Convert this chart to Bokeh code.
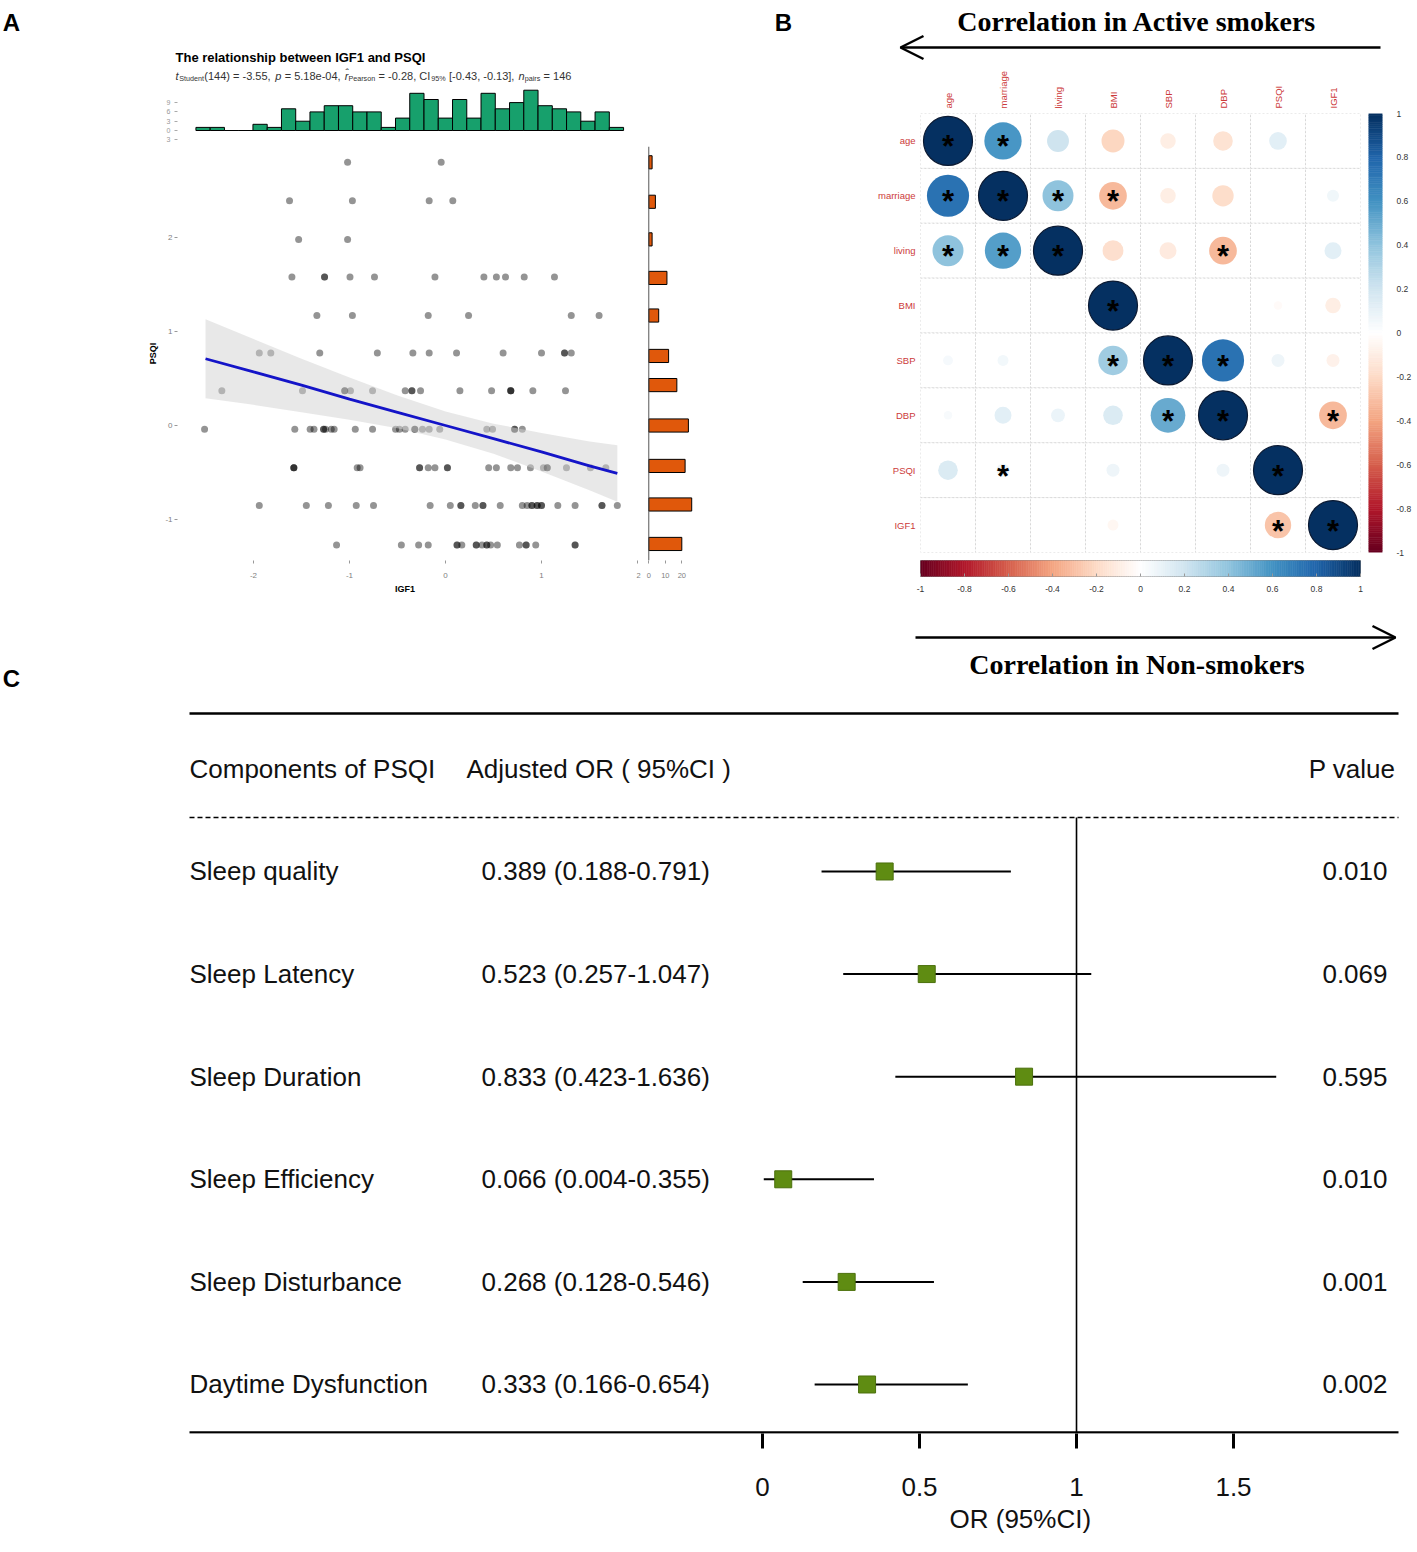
import numpy as np
from bokeh.plotting import figure
from bokeh.models import (Range1d, FactorRange, FixedTicker, Span, Arrow, OpenHead,
                          ColumnDataSource, Title)
from bokeh.layouts import row, column
from bokeh.core.properties import value
from bokeh.transform import linear_cmap
from bokeh.embed import file_html
from bokeh.resources import INLINE

SANS = "Liberation Sans"
SERIF = "Liberation Serif"

# ---------------- Panel A data (standardised IGF1 vs PSQI) ----------------
psqi_levels = [2.80, 2.39, 1.98, 1.58, 1.17, 0.77, 0.37, -0.04, -0.45, -0.85, -1.27]
igf1_by_level = [
    [-1.02, -0.045],
    [-1.625, -0.97, -0.17, 0.076],
    [-1.53, -1.02],
    [-1.60, -1.26, -1.26, -0.995, -0.74, -0.11, 0.40, 0.53, 0.625, 0.82, 1.135],
    [-1.34, -0.97, -0.18, 0.24, 1.31, 1.60],
    [-1.94, -1.82, -1.31, -0.71, -0.34, -0.17, 0.115, 0.60, 1.00, 1.24, 1.24, 1.31],
    [-2.33, -1.49, -1.05, -1.05, -0.99, -0.76, -0.42, -0.35, -0.35, -0.26, 0.15, 0.48,
     0.68, 0.68, 0.68, 0.91, 1.25],
    [-2.51, -1.57, -1.41, -1.37, -1.27, -1.27, -1.25, -1.19, -1.16, -0.94, -0.76, -0.52,
     -0.48, -0.42, -0.32, -0.32, -0.24, -0.17, -0.06, 0.43, 0.49, 0.72, 0.72, 0.80],
    [-1.58, -1.58, -1.58, -0.92, -0.89, -0.27, -0.27, -0.18, -0.11, 0.02, 0.02, 0.45,
     0.53, 0.68, 0.75, 0.885, 1.02, 1.06, 1.06, 1.26, 1.51, 1.67],
    [-1.94, -1.45, -1.22, -0.93, -0.75, -0.16, 0.05, 0.16, 0.16, 0.31, 0.39, 0.39, 0.57,
     0.80, 0.85, 0.90, 0.90, 0.955, 0.955, 1.0, 1.0, 1.17, 1.35, 1.63, 1.63, 1.79],
    [-1.135, -0.46, -0.28, -0.18, 0.12, 0.12, 0.17, 0.32, 0.32, 0.38, 0.43, 0.43, 0.47,
     0.54, 0.77, 0.84, 0.84, 0.94, 1.35, 1.35],
]
psqi_hist_centers = [2.80, 2.38, 1.98, 1.57, 1.17, 0.74, 0.43, 0.0, -0.43, -0.84, -1.26]
psqi_hist_counts = [2, 4, 2, 11, 6, 12, 17, 24, 22, 26, 20]
igf1_hist_start = -2.60
igf1_hist_binwidth = 0.1485
igf1_hist_counts = [1, 1, 0, 0, 2, 1, 7, 3, 6, 8, 8, 6, 6, 1, 4, 12, 10, 4, 10, 4,
                    12, 7, 9, 13, 8, 7, 6, 3, 6, 1]
fit_x = [-2.5, -2.0, -1.5, -1.0, -0.5, 0.0, 0.5, 1.0, 1.5, 1.79]
fit_y = [0.71, 0.57, 0.43, 0.28, 0.14, 0.0, -0.14, -0.28, -0.43, -0.51]
ci_upper = [1.13, 0.92, 0.71, 0.51, 0.32, 0.15, 0.02, -0.08, -0.17, -0.21]
ci_lower = [0.29, 0.22, 0.14, 0.06, -0.03, -0.15, -0.30, -0.49, -0.69, -0.81]

# ---------------- Panel B data (correlation matrix) ----------------
corr_vars = ["age", "marriage", "living", "BMI", "SBP", "DBP", "PSQI", "IGF1"]
corr_matrix = [
    [1.00, 0.58, 0.20, -0.22, -0.10, -0.16, 0.13, 0.00],
    [0.74, 1.00, 0.40, -0.32, -0.10, -0.19, 0.00, 0.06],
    [0.40, 0.55, 1.00, -0.18, -0.12, -0.32, 0.00, 0.12],
    [0.00, 0.00, 0.00, 1.00, 0.00, 0.00, -0.03, -0.10],
    [0.04, 0.05, 0.00, 0.36, 1.00, 0.74, 0.07, -0.07],
    [0.03, 0.12, 0.08, 0.16, 0.50, 1.00, 0.00, -0.32],
    [0.16, 0.07, 0.00, 0.07, 0.00, 0.07, 1.00, 0.00],
    [0.00, 0.00, 0.00, -0.05, 0.00, 0.00, -0.29, 1.00],
]
corr_sig = [
    [1, 1, 0, 0, 0, 0, 0, 0],
    [1, 1, 1, 1, 0, 0, 0, 0],
    [1, 1, 1, 0, 0, 1, 0, 0],
    [0, 0, 0, 1, 0, 0, 0, 0],
    [0, 0, 0, 1, 1, 1, 0, 0],
    [0, 0, 0, 0, 1, 1, 0, 1],
    [0, 1, 0, 0, 0, 0, 1, 0],
    [0, 0, 0, 0, 0, 0, 1, 1],
]
cbar_ticks = [-1, -0.8, -0.6, -0.4, -0.2, 0, 0.2, 0.4, 0.6, 0.8, 1]
cbar_labels = ["-1", "-0.8", "-0.6", "-0.4", "-0.2", "0", "0.2", "0.4", "0.6", "0.8", "1"]

# ---------------- Panel C data (forest plot) ----------------
components = ["Sleep quality", "Sleep Latency", "Sleep Duration", "Sleep Efficiency",
              "Sleep Disturbance", "Daytime Dysfunction"]
or_est = [0.389, 0.523, 0.833, 0.066, 0.268, 0.333]
or_low = [0.188, 0.257, 0.423, 0.004, 0.128, 0.166]
or_high = [0.791, 1.047, 1.636, 0.355, 0.546, 0.654]
p_values = ["0.010", "0.069", "0.595", "0.010", "0.001", "0.002"]
or_ticks = [0, 0.5, 1, 1.5]

# ---------------- helpers ----------------
ANCHORS = ["#67001F", "#B2182B", "#D6604D", "#F4A582", "#FDDBC7", "#FFFFFF",
           "#D1E5F0", "#92C5DE", "#4393C3", "#2166AC", "#053061"]


def ramp(n):
    def h2r(h):
        return tuple(int(h[i:i + 2], 16) for i in (1, 3, 5))
    out = []
    for k in range(n):
        t = k / (n - 1) * (len(ANCHORS) - 1)
        i = min(int(t), len(ANCHORS) - 2)
        f = t - i
        a, b = h2r(ANCHORS[i]), h2r(ANCHORS[i + 1])
        out.append("#%02x%02x%02x" % tuple(int(round(a[c] + (b[c] - a[c]) * f)) for c in range(3)))
    return out


PALETTE = ramp(200)


def base(width, height, **kw):
    p = figure(width=width, height=height, output_backend="svg", toolbar_location=None, **kw)
    p.outline_line_color = None
    p.background_fill_color = "white"
    p.border_fill_color = "white"
    p.grid.visible = False
    return p


def blank(width, height, xr, yr):
    p = base(width, height, x_range=Range1d(*xr), y_range=Range1d(*yr),
             x_axis_location=None, y_axis_location=None, min_border_left=0,
             min_border_right=0, min_border_top=0, min_border_bottom=0)
    return p


def txt(p, x, y, s, size, style="normal", align="left", color="black", font=SANS,
        angle=0, **kw):
    p.text(x=[x], y=[y], text=[s], text_font=value(font), text_font_size=size,
           text_font_style=style, text_align=align, text_baseline="middle",
           text_color=color, angle=angle, **kw)


def style_axis(ax, size="8px", color="#808080"):
    ax.axis_line_color = None
    ax.major_label_text_font = SANS
    ax.major_label_text_font_size = size
    ax.major_label_text_color = color
    ax.minor_tick_line_color = None


# ================= PANEL A =================
pA = blank(760, 88, (0, 760), (88, 0))
txt(pA, 11, 22, "A", "24px", "bold", "center")
txt(pA, 175, 57, "The relationship between IGF1 and PSQI", "13px", "bold")
sub_frags = [
    ("t", 175.0, "italic", "11px", 75),
    ("Student", 178.7, "normal", "7.2px", 78),
    ("(144) = -3.55,", 203.8, "normal", "11px", 75),
    ("p", 274.8, "italic", "11px", 75),
    ("= 5.18e-04,", 284.2, "normal", "11px", 75),
    ("r\u0302", 344.2, "italic", "11px", 75),
    ("Pearson", 347.9, "normal", "7.2px", 78),
    ("= -0.28, CI", 378.1, "normal", "11px", 75),
    ("95%", 430.8, "normal", "7.2px", 78),
    ("[-0.43, -0.13],", 448.5, "normal", "11px", 75),
    ("n", 518.0, "italic", "11px", 75),
    ("pairs", 524.2, "normal", "7.2px", 78),
    ("= 146", 543.1, "normal", "11px", 75),
]
for s, x, st, sz, y in sub_frags:
    txt(pA, x, y, s, sz, st, color="#333333")

# scatter
scat_x = [v for lv in igf1_by_level for v in lv]
scat_y = [psqi_levels[i] for i, lv in enumerate(igf1_by_level) for _ in lv]

pS = base(636, 474, x_range=Range1d(-2.792, 1.948), y_range=Range1d(-1.436, 2.968),
          min_border_left=177, min_border_right=4, min_border_top=0, min_border_bottom=60)
pS.scatter(scat_x, scat_y, size=7, fill_color="black", fill_alpha=0.42, line_color=None)
pS.varea(x=fit_x, y1=ci_lower, y2=ci_upper, fill_color="#d2d2d2", fill_alpha=0.5)
pS.line(fit_x, fit_y, line_color="#1414c8", line_width=2.8)
for ax in (pS.xaxis, pS.yaxis):
    style_axis(ax)
    ax.major_tick_line_color = "#999999"
    ax.major_tick_out = 3
    ax.major_tick_in = 0
    ax.axis_label_text_font = SANS
    ax.axis_label_text_font_size = "9px"
    ax.axis_label_text_font_style = "bold"
    ax.axis_label_text_color = "black"
pS.xaxis.ticker = FixedTicker(ticks=[-2, -1, 0, 1])
pS.xaxis.major_label_overrides = {-2: "-2", -1: "-1", 0: "0", 1: "1"}
pS.xaxis.major_label_standoff = 9
pS.xaxis.axis_label = "IGF1"
pS.xaxis.axis_label_standoff = 3
pS.yaxis.ticker = FixedTicker(ticks=[-1, 0, 1, 2])
pS.yaxis.major_label_overrides = {-1: "-1", 0: "0", 1: "1", 2: "2"}
pS.yaxis.major_label_standoff = 2
pS.yaxis.axis_label = "PSQI"
pS.yaxis.axis_label_standoff = 4

# right marginal histogram
pR = base(124, 474, x_range=Range1d(-7.45, 31.33), y_range=pS.y_range, y_axis_location=None,
          min_border_left=0, min_border_right=60, min_border_top=0, min_border_bottom=60)
pR.add_layout(Span(location=0, dimension="height", line_color="#555555", line_width=1))
pR.hbar(y=psqi_hist_centers, left=0, right=psqi_hist_counts, height=0.14,
        fill_color="#E0580B", line_color="black", line_width=1)
style_axis(pR.xaxis, "7.5px")
pR.xaxis.ticker = FixedTicker(ticks=[-7, 0, 10, 20])
pR.xaxis.major_label_overrides = {-7: "2", 0: "0", 10: "10", 20: "20"}
pR.xaxis.major_tick_line_color = "#999999"
pR.xaxis.major_tick_out = 3
pR.xaxis.major_tick_in = 0
pR.xaxis.major_label_standoff = 9

# top marginal histogram
hist_centers = [igf1_hist_start + (i + 0.5) * igf1_hist_binwidth for i in range(len(igf1_hist_counts))]
pT = base(760, 58, x_range=pS.x_range, y_range=Range1d(-5.16, 13.55), x_axis_location=None,
          min_border_left=177, min_border_right=128, min_border_top=0, min_border_bottom=0)
pT.vbar(x=hist_centers, top=igf1_hist_counts, bottom=0, width=igf1_hist_binwidth,
        fill_color="#17a06c", line_color="black", line_width=1)
style_axis(pT.yaxis, "7px", "#999999")
pT.yaxis.ticker = FixedTicker(ticks=[9, 6, 3, 0, -3])
pT.yaxis.major_label_overrides = {9: "9", 6: "6", 3: "3", 0: "0", -3: "3"}
pT.yaxis.major_tick_line_color = "#aaaaaa"
pT.yaxis.major_tick_out = 3
pT.yaxis.major_tick_in = 0
pT.yaxis.major_label_standoff = 4

colA = column(row(pA), row(pT), row(pS, pR))

# ================= PANEL B =================
pBh = blank(654, 65, (760, 1414), (65, 0))
txt(pBh, 783, 22, "B", "24px", "bold", "center")
txt(pBh, 1140, 21, "Correlation in  Active smokers", "28px", "bold", "center", font=SERIF)
pBh.add_layout(Arrow(x_start=1380, y_start=47, x_end=900, y_end=47, line_width=2.5,
                     end=OpenHead(size=23, line_width=2.5, line_color="black")))

cx, cy, cr, crad, cline = [], [], [], [], []
sx, sy = [], []
for i, rn in enumerate(corr_vars):
    for j, cn in enumerate(corr_vars):
        r = corr_matrix[i][j]
        if r != 0:
            cx.append(cn)
            cy.append(rn)
            cr.append(r)
            crad.append(24.5 * abs(r) ** 0.5)
            cline.append("#0b1a33" if abs(r) >= 0.99 else None)
        if corr_sig[i][j]:
            sx.append(cn)
            sy.append(rn)
circ_src = ColumnDataSource(dict(x=cx, y=cy, r=cr, rad=crad, lc=cline))
grid_x = [c for _ in corr_vars for c in corr_vars]
grid_y = [r for r in corr_vars for _ in corr_vars]

pBm = base(604, 491, x_range=FactorRange(*corr_vars), y_range=FactorRange(*reversed(corr_vars)),
           x_axis_location="above", min_border_left=160, min_border_right=4,
           min_border_top=48, min_border_bottom=4)
pBm.rect(x=grid_x, y=grid_y, width=1, height=1, fill_color="white", line_color="#d8d8d8",
         line_dash="2 2", line_width=1)
pBm.circle(x="x", y="y", radius="rad", radius_units="screen", source=circ_src,
           fill_color=linear_cmap("r", PALETTE, -1, 1), line_color="lc", line_width=1.2)
pBm.text(x=sx, y=sy, text=["*"] * len(sx), text_font=value(SANS), text_font_size="31px",
         text_font_style="bold", text_align="center", text_baseline="middle",
         text_color="black", y_offset=6)
for ax in (pBm.xaxis, pBm.yaxis):
    style_axis(ax, "9.5px", "#cc3a3a")
    ax.major_tick_line_color = None
    ax.major_tick_out = 0
    ax.major_tick_in = 0
    ax.major_label_standoff = 5
pBm.xaxis.major_label_orientation = "vertical"

edges = [cbar_ticks[0] + k * (cbar_ticks[-1] - cbar_ticks[0]) / len(PALETTE) for k in range(len(PALETTE) + 1)]
cbar_over = dict(zip(cbar_ticks, cbar_labels))

pBr = base(50, 491, x_range=Range1d(0, 1), y_range=Range1d(-1, 1), x_axis_location=None,
           y_axis_location="right", min_border_left=4, min_border_right=32,
           min_border_top=48, min_border_bottom=4)
pBr.quad(left=0, right=1, bottom=edges[:-1], top=edges[1:], fill_color=PALETTE,
         line_color=PALETTE, line_width=0.6)
style_axis(pBr.yaxis, "8.5px", "#333333")
pBr.yaxis.ticker = FixedTicker(ticks=cbar_ticks)
pBr.yaxis.major_label_overrides = cbar_over
pBr.yaxis.major_tick_line_color = None
pBr.yaxis.major_tick_out = 0
pBr.yaxis.major_label_standoff = 14

pBb = base(654, 64, x_range=Range1d(-1, 1), y_range=Range1d(0, 1), y_axis_location=None,
           min_border_left=160, min_border_right=54, min_border_top=4, min_border_bottom=44)
pBb.quad(left=edges[:-1], right=edges[1:], bottom=0, top=1, fill_color=PALETTE,
         line_color=PALETTE, line_width=0.6)
pBb.outline_line_color = "#888888"
style_axis(pBb.xaxis, "8.5px", "#333333")
pBb.xaxis.ticker = FixedTicker(ticks=cbar_ticks)
pBb.xaxis.major_label_overrides = cbar_over
pBb.xaxis.major_tick_line_color = "#9a9a9a"
pBb.xaxis.major_tick_in = 3
pBb.xaxis.major_tick_out = 0
pBb.xaxis.major_label_standoff = 9

colB = column(row(pBh), row(pBm, pBr), row(pBb))

# ================= PANEL C =================
row_pos = list(range(len(components), 0, -1))
pC = base(1408, 924, x_range=Range1d(-2.4268, 2.0573), y_range=Range1d(0.5224, 8.446),
          y_axis_location=None, min_border_left=0, min_border_right=0,
          min_border_top=0, min_border_bottom=111)
pC.extra_x_ranges = {"px": Range1d(0, 1408)}
pC.extra_y_ranges = {"py": Range1d(1433, 620)}
PX = dict(x_range_name="px", y_range_name="py")

# panel-B bottom arrow & caption (sits in this canvas)
pC.add_layout(Arrow(x_start=915, y_start=637, x_end=1395, y_end=637, line_width=2.5,
                    end=OpenHead(size=23, line_width=2.5, line_color="black"), **PX))
txt(pC, 1140, 664, "Correlation in  Non-smokers", "28px", "bold", "center", font=SERIF, **PX)
txt(pC, 11, 678, "C", "24px", "bold", "center", **PX)

# table rules
pC.segment(x0=[189, 189], x1=[1398, 1398], y0=[713, 1432], y1=[713, 1432],
           line_color="black", line_width=2.5, **PX)
pC.segment(x0=[189], x1=[1398], y0=[817], y1=[817], line_color="black", line_width=1.5,
           line_dash="5 3", **PX)
pC.segment(x0=[1], x1=[1], y0=[817], y1=[1432], line_color="black", line_width=1.6,
           y_range_name="py")

# header
txt(pC, 189, 768, "Components of PSQI", "26px", color="#111111", **PX)
txt(pC, 466, 768, "Adjusted OR ( 95%CI )", "26px", color="#111111", **PX)
txt(pC, 1395, 768, "P value", "26px", align="right", color="#111111", **PX)

# rows
or_text = ["%.3f (%.3f-%.3f)" % (e, lo, hi) for e, lo, hi in zip(or_est, or_low, or_high)]
pC.text(x=[189] * len(components), y=row_pos, text=components, text_font=value(SANS),
        text_font_size="26px", text_align="left", text_baseline="middle",
        text_color="#111111", x_range_name="px")
pC.text(x=[481] * len(components), y=row_pos, text=or_text, text_font=value(SANS),
        text_font_size="26px", text_align="left", text_baseline="middle",
        text_color="#111111", x_range_name="px")
pC.text(x=[1387] * len(components), y=row_pos, text=p_values, text_font=value(SANS),
        text_font_size="26px", text_align="right", text_baseline="middle",
        text_color="#111111", x_range_name="px")
pC.segment(x0=or_low, x1=or_high, y0=row_pos, y1=row_pos, line_color="black", line_width=2)
pC.scatter(x=or_est, y=row_pos, marker="square", size=17, fill_color="#5f8c12",
           line_color="#4b700c", line_width=1)

ax = pC.xaxis[0]
ax.ticker = FixedTicker(ticks=or_ticks)
ax.major_label_overrides = {0: "0", 0.5: "0.5", 1: "1", 1.5: "1.5"}
ax.bounds = (0, 1.65)
ax.axis_line_color = None
ax.minor_tick_line_color = None
ax.major_tick_line_color = "black"
ax.major_tick_line_width = 3
ax.major_tick_out = 15
ax.major_tick_in = 0
ax.major_label_text_font = SANS
ax.major_label_text_font_size = "26px"
ax.major_label_text_color = "#111111"
ax.major_label_standoff = 29
pC.add_layout(Title(text="OR (95%CI)", align="left", offset=949, text_font=SANS,
                    text_font_size="26px", text_font_style="normal", text_color="#111111",
                    standoff=6), "below")

layout = column(row(colA, colB), pC)
open("out.html", "w").write(file_html(layout, INLINE))
